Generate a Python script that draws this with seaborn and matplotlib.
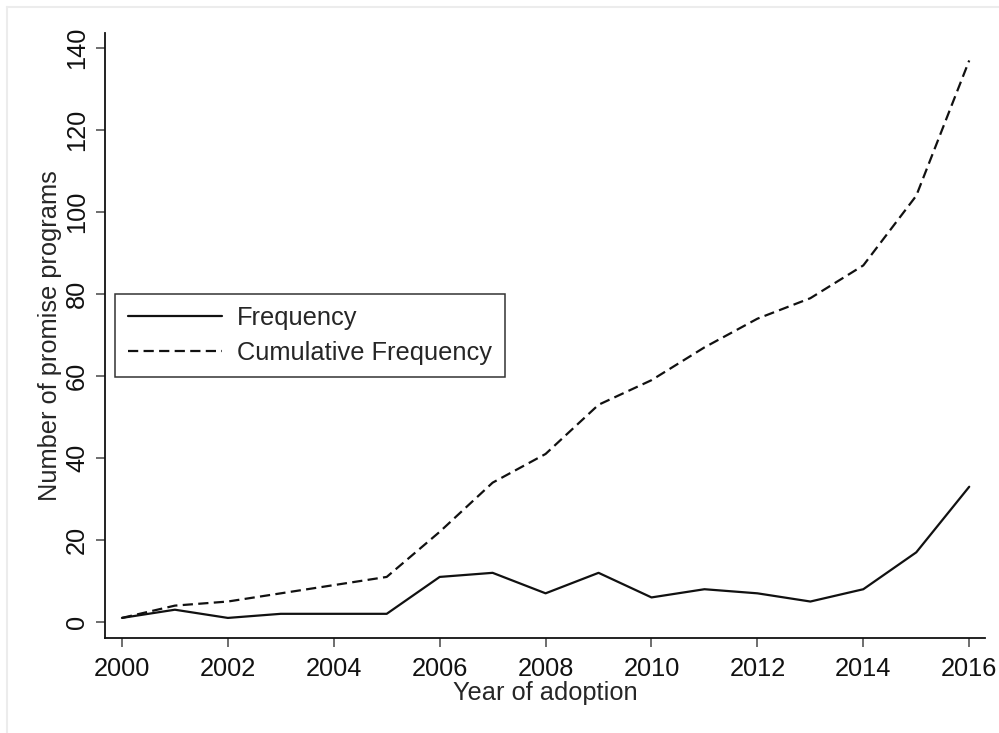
import matplotlib
matplotlib.use("Agg")
import matplotlib.pyplot as plt
from matplotlib.lines import Line2D
import seaborn as sns
import pandas as pd

years = list(range(2000, 2017))
frequency = [1, 3, 1, 2, 2, 2, 11, 12, 7, 12, 6, 8, 7, 5, 8, 17, 33]
cumulative = [1, 4, 5, 7, 9, 11, 22, 34, 41, 53, 59, 67, 74, 79, 87, 104, 137]
series_names = ["Frequency", "Cumulative Frequency"]
x_ticks = list(range(2000, 2017, 2))
y_ticks = list(range(0, 141, 20))

df = pd.DataFrame({
    "year": years * 2,
    "count": frequency + cumulative,
    "series": [series_names[0]] * len(years) + [series_names[1]] * len(years),
})

sns.set_theme(style="white")
plt.rcParams["font.family"] = ["Liberation Sans", "DejaVu Sans"]

FS = 18.3
LW = 1.6
DASH = (4.6, 2.4)

fig = plt.figure(figsize=(9.99, 7.33), dpi=100)
ax = fig.add_axes([0.1051, 0.1296, 0.8810, 0.8254])

sns.lineplot(
    data=df, x="year", y="count", style="series",
    dashes={series_names[0]: "", series_names[1]: DASH},
    color="#111111", linewidth=LW, ax=ax, legend=False,
)

ax.set_xlim(1999.68, 2016.30)
ax.set_ylim(-3.9, 143.7)
ax.set_xticks(x_ticks)
ax.set_yticks(y_ticks)
ax.set_xticklabels([str(t) for t in x_ticks], fontsize=FS)
ax.set_yticklabels([str(t) for t in y_ticks], fontsize=FS,
                   rotation=90, va="center")
ax.set_xlabel("Year of adoption", fontsize=FS, labelpad=0)
ax.set_ylabel("Number of promise programs", fontsize=FS, labelpad=2)

sns.despine(ax=ax)
for side in ("left", "bottom"):
    ax.spines[side].set_color("#111111")
    ax.spines[side].set_linewidth(1.3)
ax.tick_params(axis="both", which="major", bottom=True, left=True,
               length=6.5, width=1.2, color="#555555", direction="out",
               labelcolor="#111111")
ax.tick_params(axis="x", pad=7)
ax.tick_params(axis="y", pad=5)

handles = [
    Line2D([], [], color="#111111", linewidth=LW, linestyle="-"),
    Line2D([], [], color="#111111", linewidth=LW, dashes=DASH),
]
leg = ax.legend(
    handles, series_names, loc="lower left", bbox_to_anchor=(0.0114, 0.431),
    borderaxespad=0, fontsize=FS, handlelength=3.7, handletextpad=0.6,
    labelspacing=0.4, borderpad=0.5, fancybox=False, framealpha=1,
    edgecolor="#333333",
)
leg.get_frame().set_linewidth(1.1)

# light outer frame along the top and left edges
fig.add_artist(Line2D([7 / 999, 1.0], [1 - 7 / 733, 1 - 7 / 733],
                      transform=fig.transFigure, color="#ececec", linewidth=1.5))
fig.add_artist(Line2D([7 / 999, 7 / 999], [0.0, 1 - 7 / 733],
                      transform=fig.transFigure, color="#ececec", linewidth=1.5))

fig.savefig("out.png", dpi=100)
